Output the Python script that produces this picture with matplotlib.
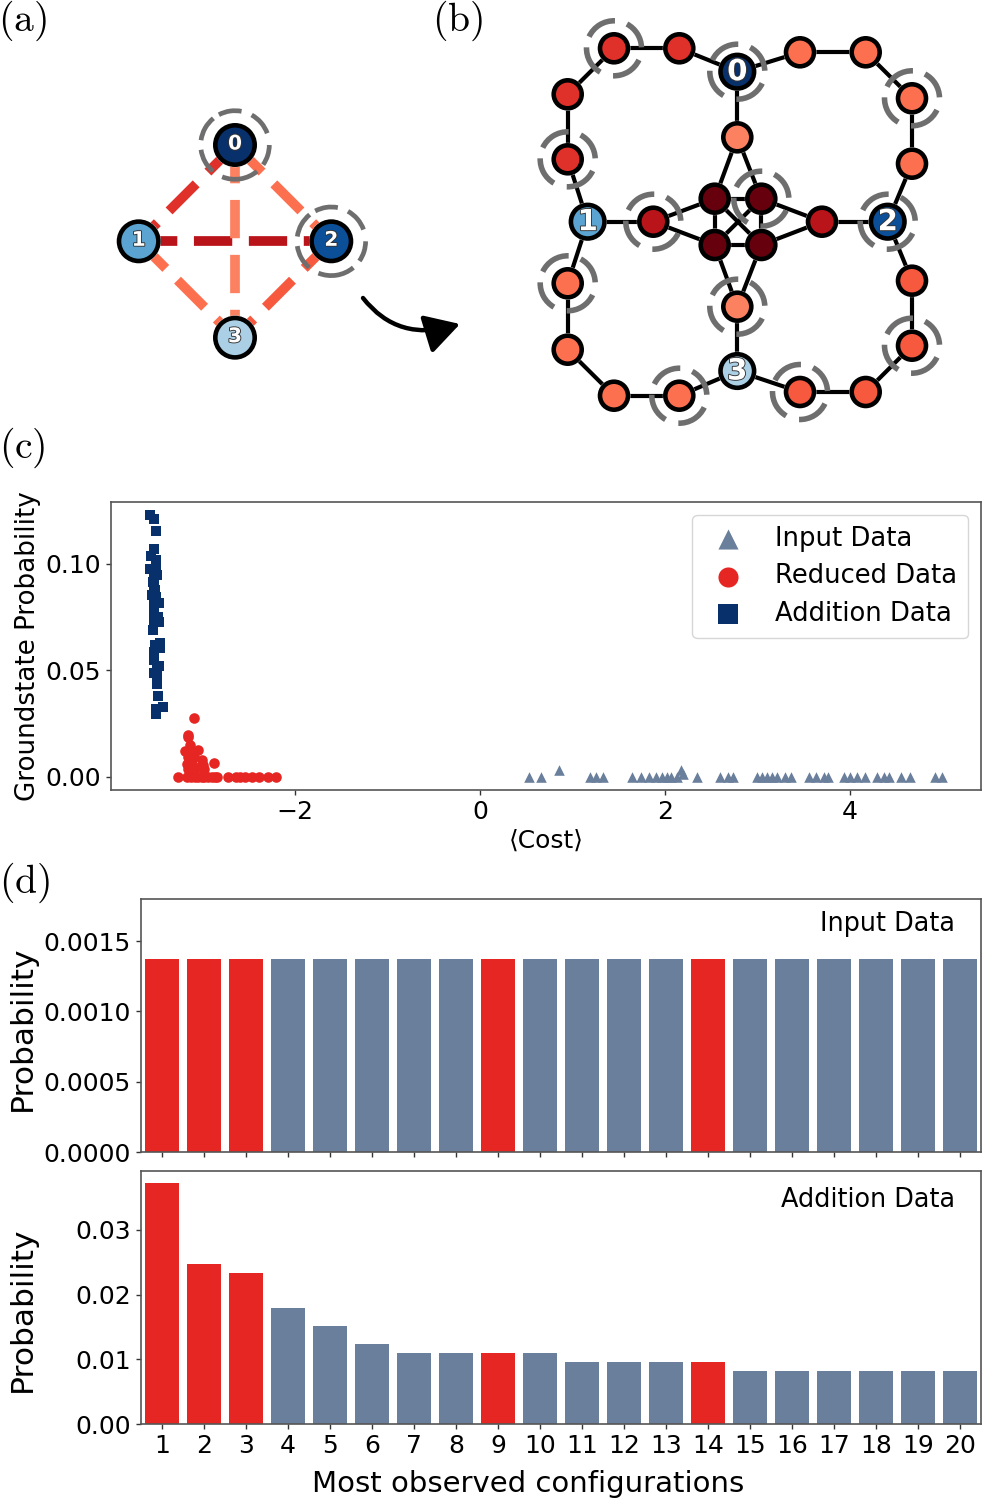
import matplotlib
matplotlib.use("Agg")
import matplotlib.pyplot as plt
import matplotlib.patheffects as pe
from matplotlib.patches import Arc, Circle, FancyArrowPatch
from matplotlib.lines import Line2D

W, H = 997, 1506
plt.rcParams['font.family'] = ['DejaVu Sans']
plt.rcParams['mathtext.fontset'] = 'cm'

# ---------- scatter data ----------
input_cost = [0.534,0.656,0.859,1.19,1.26,1.33,1.64,1.74,1.83,1.91,1.97,2.02,2.07,2.13,2.18,2.20,2.35,
              2.60,2.68,2.74,3.00,3.05,3.10,3.16,3.21,3.30,3.37,3.56,3.64,3.72,3.77,3.94,4.00,4.08,4.17,
              4.29,4.37,4.42,4.55,4.65,4.92,5.00]
input_prob = [0,0,0.0035,0,0,0,0,0,0,0,0,0,0,0,0.0035,0.0012,0,
              0,0,0,0,0,0,0,0,0,0,0,0,0,0,0,0,0,0,
              0,0,0,0,0,0,0]
reduced_cost = [-3.265,-3.17,-3.12,-3.08,-3.05,-3.01,-2.98,-2.94,-2.90,-2.87,-2.84,-2.72,-2.64,-2.59,-2.54,
                -2.46,-2.39,-2.29,-2.21,
                -3.095,-3.16,-3.16,-3.19,-3.14,-3.14,-3.05,-3.16,-3.09,-3.01,-2.88,-3.17,-3.11,-3.03,-2.98,
                -3.16,-3.09,-2.99,-3.12]
reduced_prob = [0]*19 + [0.0277,0.0199,0.0188,0.0122,0.0149,0.0125,0.0125,0.0094,0.0094,0.0078,0.0066,0.0063,
                         0.0063,0.0047,0.0039,0.0039,0.0031,0.0055,0.0023]
addition_cost = [-3.566,-3.524,-3.50,-3.52,-3.56,-3.50,-3.57,-3.50,-3.53,-3.49,-3.54,-3.52,-3.53,-3.51,-3.55,
                 -3.50,-3.53,-3.47,-3.52,-3.52,-3.48,-3.53,-3.47,-3.54,-3.46,-3.51,-3.46,-3.52,-3.53,-3.47,
                 -3.49,-3.53,-3.49,-3.49,-3.48,-3.43,-3.50,-3.50]
addition_prob = [0.1228,0.121,0.1153,0.1069,0.1036,0.1017,0.0978,0.097,0.0947,0.0947,0.0915,0.0915,0.0884,0.0876,
                 0.0853,0.0845,0.0814,0.0814,0.079,0.0759,0.0751,0.0732,0.0725,0.0689,0.0629,0.0621,0.0603,0.0587,
                 0.0551,0.0521,0.05,0.0488,0.0462,0.0438,0.038,0.0329,0.0321,0.0294]

# ---------- bar data ----------
configs = list(range(1, 21))
input_bars = [0.00137]*20
addition_bars = [0.0372,0.0247,0.0233,0.0179,0.0151,0.0124,0.011,0.011,0.011,0.011,
                 0.0096,0.0096,0.0096,0.0096,0.0082,0.0082,0.0082,0.0082,0.0082,0.0082]
highlight = [1, 2, 3, 9, 14]

RED, SLATE, NAVY = '#e62622', '#6a7f9b', '#08306b'
SPINE = '#555555'

# ---------- graph (a) ----------
a_nodes = {'0': (235, 145), '1': (138.7, 241.3), '2': (331.3, 241.3), '3': (235, 337.7)}
a_colors = {'0': '#08306b', '1': '#5ba3d0', '2': '#0a4f97', '3': '#abd0e6'}
a_edges = [('0','1','#e0302a'), ('1','2','#b91419'), ('0','2','#fc7050'),
           ('0','3','#fc8161'), ('1','3','#fc7050'), ('2','3','#f7593f')]
a_marked = ['0', '2']

# ---------- graph (b) ----------
b_hubs = {'0': (737.3, 71.7), '1': (587.7, 221.7), '2': (887.7, 221.7), '3': (737.3, 371)}
b_nodes = {
 'a1': (614, 48.3, '#e0302a', 1), 'a2': (679.3, 48.3, '#e0302a', 0),
 'a3': (567.7, 94.3, '#e0302a', 0), 'a4': (567.7, 159.3, '#e0302a', 1),
 'b1': (800, 52.3, '#fc7050', 0), 'b2': (865.7, 52.3, '#fc7050', 0),
 'b3': (912, 98.3, '#fc7050', 1), 'b4': (912, 163.7, '#fc7050', 0),
 'c1': (737.3, 137.3, '#fc8161', 0), 'c2': (737.3, 306.7, '#fc8161', 1),
 'd1': (714.7, 198.7, '#67000d', 0), 'd2': (761.3, 198.7, '#67000d', 1),
 'd3': (714.7, 245, '#67000d', 0), 'd4': (761.3, 245, '#67000d', 0),
 'm1': (653.3, 221.7, '#b91419', 1), 'm2': (822, 221.7, '#b91419', 0),
 'e1': (567.7, 283.3, '#fc7050', 1), 'e2': (567.7, 349.7, '#fc7050', 0),
 'e3': (614, 395.7, '#fc7050', 0), 'e4': (679.3, 395.7, '#fc7050', 1),
 'f1': (912, 280.7, '#f7593f', 0), 'f2': (912, 345.7, '#f7593f', 1),
 'f3': (865.7, 392, '#f7593f', 0), 'f4': (800, 392, '#f7593f', 1),
}
b_edges = [('0','a2'),('a2','a1'),('a1','a3'),('a3','a4'),('a4','1'),
           ('0','b1'),('b1','b2'),('b2','b3'),('b3','b4'),('b4','2'),
           ('0','c1'),('c1','d1'),('c1','d2'),
           ('1','m1'),('m1','d1'),('m1','d3'),('2','m2'),('m2','d2'),('m2','d4'),
           ('d1','d2'),('d1','d3'),('d1','d4'),('d2','d3'),('d2','d4'),('d3','d4'),
           ('d3','c2'),('d4','c2'),('c2','3'),
           ('1','e1'),('e1','e2'),('e2','e3'),('e3','e4'),('e4','3'),
           ('3','f4'),('f4','f3'),('f3','f2'),('f2','f1'),('f1','2')]
b_hub_marked = ['0', '2']

px = 1/100
fig = plt.figure(figsize=(W*px, H*px), dpi=100)

def axes_px(x0, y0, x1, y1, **kw):
    return fig.add_axes([x0/W, 1-y1/H, (x1-x0)/W, (y1-y0)/H], **kw)

TICK = 18
TXT = 18.4
LEG = 18.6
LBL = 21
PLBL = 22.5
MS = 58

# ---------- overlay ----------
ov = axes_px(0, 0, W, H)
ov.set_xlim(0, W); ov.set_ylim(H, 0); ov.axis('off')

def ring(x, y, r, spans, lw=3):
    for t1, t2 in spans:
        ov.add_patch(Arc((x, y), 2*r, 2*r, theta1=-t2, theta2=-t1, color='#6e6e6e', lw=lw, zorder=3))

RING_A = [(20,61),(79,118),(129,172),(188,230),(248,310),(325,360)]
RING_B = [(2,62),(88,155),(178,240),(268,335)]

def node(x, y, r, c, lw=3.3):
    ov.add_patch(Circle((x, y), r+2.5, fc='white', ec='none', zorder=4))
    ov.add_patch(Circle((x, y), r, fc=c, ec='black', lw=lw, zorder=5))

def hub_label(x, y, s, size):
    ov.text(x, y, s, color='white', fontsize=size, fontweight='bold', ha='center', va='center', zorder=6,
            path_effects=[pe.withStroke(linewidth=1.3, foreground='#333333')])

for u, v, c in a_edges:
    (x0, y0), (x1, y1) = a_nodes[u], a_nodes[v]
    ov.add_line(Line2D([x0, x1], [y0, y1], color=c, lw=7, ls=(0, (3.94, 1.71)), dash_capstyle='butt', zorder=2))
for k in a_marked:
    ring(*a_nodes[k], 34.3, RING_A, lw=3.4)
for k, (x, y) in a_nodes.items():
    node(x, y, 19.7, a_colors[k])
    hub_label(x, y-1, k, 14.5)

allb = dict(b_hubs)
for k, v in b_nodes.items():
    allb[k] = v[:2]
for u, v in b_edges:
    ov.add_line(Line2D([allb[u][0], allb[v][0]], [allb[u][1], allb[v][1]], color='black', lw=3, zorder=2,
                       solid_capstyle='butt'))
for k, (x, y, c, m) in b_nodes.items():
    if m:
        ring(x, y, 27.5, RING_B, lw=4)
    node(x, y, 14, c)
for k in b_hub_marked:
    ring(*b_hubs[k], 27.5, RING_B, lw=4)
for k, (x, y) in b_hubs.items():
    node(x, y, 16.8, a_colors[k])
    hub_label(x, y+0.5, k, 21)

ov.add_patch(FancyArrowPatch((363, 298), (460, 324), connectionstyle='angle3,angleA=-52,angleB=17',
                             arrowstyle='-|>,head_length=1.05,head_width=0.6', mutation_scale=20,
                             color='black', lw=3.2, shrinkA=0, shrinkB=0, zorder=3))

for s, x, y in [('(a)', 22, 21), ('(b)', 457, 21), ('(c)', 22, 448), ('(d)', 24, 883)]:
    ov.text(x, y, r'$\mathrm{' + s + '}$', fontsize=28.5, ha='center', va='center')

# ---------- panel (c) ----------
ax = axes_px(111, 502, 981, 790)
ax.set_xlim(-3.99, 5.42); ax.set_ylim(-0.0061, 0.129)
ax.scatter(input_cost, input_prob, marker='^', s=MS, color=SLATE, linewidths=0, label='Input Data')
ax.scatter(reduced_cost, reduced_prob, marker='o', s=MS, color=RED, linewidths=0, label='Reduced Data')
ax.scatter(addition_cost, addition_prob, marker='s', s=MS, color=NAVY, linewidths=0, label='Addition Data')
ax.set_xticks([-2, 0, 2, 4]); ax.set_yticks([0, 0.05, 0.10])
ax.set_yticklabels(['0.00', '0.05', '0.10'])
ax.tick_params(labelsize=TICK, width=1, color='#333333', pad=4)
ax.set_xlabel('\u27e8Cost\u27e9', fontsize=TICK, labelpad=3)
ax.set_ylabel('Groundstate Probability', fontsize=18.8)
ax.yaxis.set_label_coords(-0.081, 0.5)
leg = ax.legend(loc='upper right', fontsize=LEG, markerscale=1.9, frameon=True, borderaxespad=0.5,
                labelspacing=0.45, handletextpad=0.83, borderpad=0.42, handlelength=1.95)
for s in ax.spines.values():
    s.set_color(SPINE); s.set_linewidth(1.2)

# ---------- panel (d) ----------
bar_colors = [RED if c in highlight else SLATE for c in configs]
ax1 = axes_px(141, 899, 981, 1152)
ax1.bar(configs, input_bars, width=0.82, color=bar_colors)
ax1.set_xlim(0.5, 20.5); ax1.set_ylim(0, 0.0018)
ax1.set_yticks([0, 0.0005, 0.0010, 0.0015])
ax1.set_yticklabels(['0.0000', '0.0005', '0.0010', '0.0015'])
ax1.set_xticks(configs); ax1.set_xticklabels([])
ax1.tick_params(labelsize=TICK, width=1, color='#333333', pad=4)
ax1.set_ylabel('Probability', fontsize=PLBL)
ax1.yaxis.set_label_coords(-0.124, 0.49)
ax1.text(0.969, 0.90, 'Input Data', transform=ax1.transAxes, ha='right', va='center', fontsize=TXT)

ax2 = axes_px(141, 1171, 981, 1424)
ax2.bar(configs, addition_bars, width=0.82, color=bar_colors)
ax2.set_xlim(0.5, 20.5); ax2.set_ylim(0, 0.0391)
ax2.set_yticks([0, 0.01, 0.02, 0.03])
ax2.set_yticklabels(['0.00', '0.01', '0.02', '0.03'])
ax2.set_xticks(configs); ax2.set_xticklabels([str(c) for c in configs])
ax2.tick_params(labelsize=TICK, width=1, color='#333333', pad=3.5)
ax2.set_ylabel('Probability', fontsize=PLBL)
ax2.yaxis.set_label_coords(-0.124, 0.455)
ax2.set_xlabel('Most observed configurations', fontsize=LBL)
ax2.xaxis.set_label_coords(0.461, -0.183)
ax2.text(0.969, 0.887, 'Addition Data', transform=ax2.transAxes, ha='right', va='center', fontsize=TXT)
for a in (ax1, ax2):
    for s in a.spines.values():
        s.set_color(SPINE); s.set_linewidth(1.2)

fig.savefig('out.png', dpi=100)
